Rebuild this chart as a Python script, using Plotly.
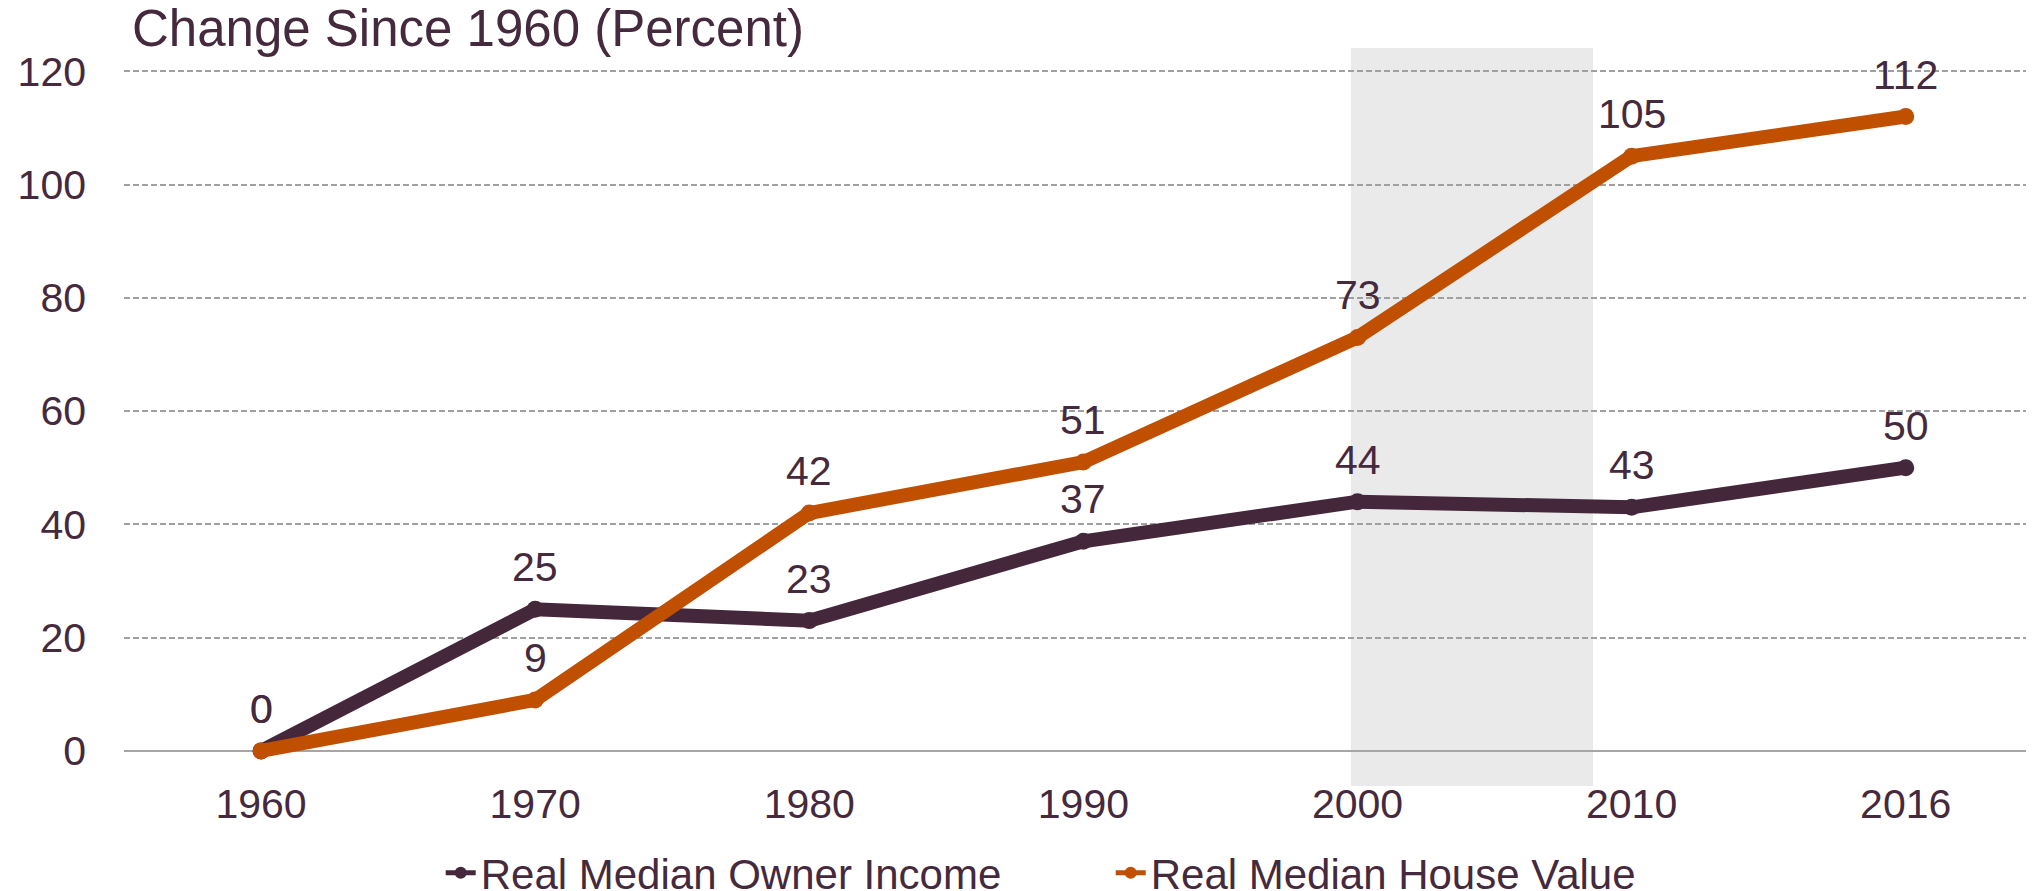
import plotly.graph_objects as go

years = ["1960", "1970", "1980", "1990", "2000", "2010", "2016"]
owner_income = [0, 25, 23, 37, 44, 43, 50]
house_value = [0, 9, 42, 51, 73, 105, 112]
y_ticks = [0, 20, 40, 60, 80, 100, 120]
title_text = "Change Since 1960 (Percent)"
series_names = ["Real Median Owner Income", "Real Median House Value"]
shade_x = (3.976, 4.859)  # shaded band in category-index units

TEXT = "#45293D"
PURPLE = "#45273C"
ORANGE = "#C04F00"
FONT = "Liberation Sans, Arial, sans-serif"

fig = go.Figure()
for name, vals, col in [(series_names[0], owner_income, PURPLE),
                        (series_names[1], house_value, ORANGE)]:
    fig.add_trace(go.Scatter(
        x=years, y=vals, name=name, mode="lines+markers",
        line=dict(color=col, width=14),
        marker=dict(color=col, size=17),
        cliponaxis=False,
    ))
    for i, yv in enumerate(vals):
        fig.add_annotation(x=i, y=yv, text=str(yv), showarrow=False,
                           yshift=42, yanchor="middle", xanchor="center",
                           font=dict(size=41, color=TEXT, family=FONT))

fig.add_shape(type="rect", xref="x", yref="y",
              x0=shade_x[0], x1=shade_x[1], y0=-6.2, y1=124.1,
              fillcolor="#EAEAEA", line=dict(width=0), layer="below")

fig.add_annotation(text=title_text, xref="paper", yref="paper",
                   x=0.0029, y=1.0264, xanchor="left", yanchor="middle",
                   showarrow=False, font=dict(size=51, color=TEXT, family=FONT))

fig.update_layout(
    width=2026, height=883,
    margin=dict(l=116, r=0, t=40, b=105, autoexpand=False),
    plot_bgcolor="white", paper_bgcolor="white",
    font=dict(family=FONT, size=41, color=TEXT),
    showlegend=True,
    legend=dict(orientation="h", x=0.5166, xanchor="center", y=-0.1179, yanchor="middle",
                font=dict(size=42, color=TEXT, family=FONT), entrywidth=625,
                entrywidthmode="pixels", itemsizing="constant", bgcolor="rgba(0,0,0,0)"),
    xaxis=dict(type="category", range=[-0.5, 6.468], showgrid=False, showline=False,
               ticks="", ticklabelstandoff=-10, tickfont=dict(size=41, color=TEXT)),
    yaxis=dict(range=[-6.2, 124.1], tickvals=y_ticks, showgrid=True,
               gridcolor="#A0A0A0", griddash="6px,3px", gridwidth=1.5,
               zeroline=True, zerolinecolor="#A6A6A6", zerolinewidth=2,
               showline=False, ticks="", ticklabelstandoff=37,
               tickfont=dict(size=41, color=TEXT)),
)

fig.write_html("out.html")
